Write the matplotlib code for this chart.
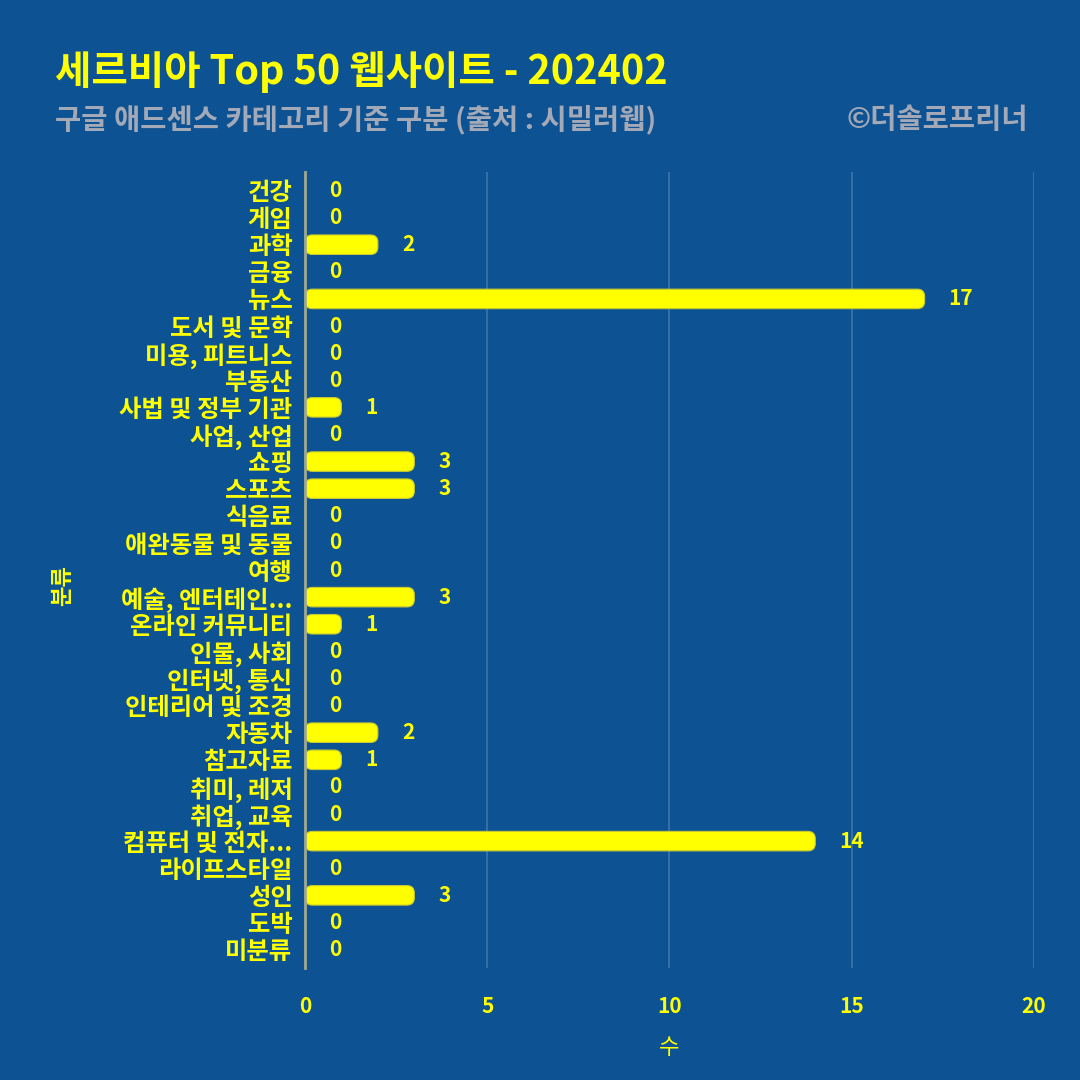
import matplotlib
matplotlib.use('Agg')
import matplotlib.pyplot as plt
from matplotlib.patches import FancyBboxPatch

# Data
categories = ['건강', '게임', '과학', '금융', '뉴스', '도서 및 문학', '미용, 피트니스', '부동산',
              '사법 및 정부 기관', '사업, 산업', '쇼핑', '스포츠', '식음료', '애완동물 및 동물',
              '여행', '예술, 엔터테인...', '온라인 커뮤니티', '인물, 사회', '인터넷, 통신',
              '인테리어 및 조경', '자동차', '참고자료', '취미, 레저', '취업, 교육',
              '컴퓨터 및 전자...', '라이프스타일', '성인', '도박', '미분류']
counts = [0, 0, 2, 0, 17, 0, 0, 0, 1, 0, 3, 3, 0, 0, 0, 3, 1, 0, 0, 0, 2, 1, 0, 0, 14, 0, 3, 0, 0]
xticks = [0, 5, 10, 15, 20]

bg = '#0d5293'
yellow = '#ffff00'
font = ['Noto Sans CJK KR', 'DejaVu Sans']
plt.rcParams['font.family'] = font
plt.rcParams['font.weight'] = 'bold'

fig = plt.figure(figsize=(10.8, 10.8), dpi=100, facecolor=bg)
ax = fig.add_axes([0.2824, 0.1037, 0.675, 0.737])
ax.set_facecolor(bg)

ax.set_xlim(0, 20)
ax.set_ylim(len(categories) - 0.32, -0.68)

ypos = list(range(len(categories)))
bars = ax.barh(ypos, counts, height=0.72, color=yellow, zorder=3)

# rounded bar ends
aspect = (1 / 27.1) / (1 / 36.45)
for b, c in zip(bars, counts):
    b.set_visible(False)
    if c <= 0:
        continue
    x0, y0 = b.get_x(), b.get_y()
    w, h = b.get_width(), b.get_height()
    p = FancyBboxPatch((x0, y0), w, h, boxstyle='round,pad=0,rounding_size=0.2',
                       mutation_aspect=aspect, facecolor=yellow, edgecolor='#c8c832',
                       linewidth=0.8, zorder=3)
    ax.add_patch(p)

for y, c in zip(ypos, counts):
    ax.annotate(str(c), (c, y), xytext=(24, 0), textcoords='offset pixels',
                ha='left', va='center', color=yellow, fontsize=15, fontweight='bold')

ax.set_xticks(xticks)
ax.set_yticks(ypos)
ax.set_yticklabels(categories)
ax.tick_params(axis='y', length=0, pad=9, labelsize=17.5, labelcolor=yellow)
ax.tick_params(axis='x', length=0, pad=20, labelsize=15, labelcolor=yellow)

ax.grid(axis='x', color='#3f74ab', linewidth=1.2, zorder=0)
for s in ['top', 'right', 'bottom']:
    ax.spines[s].set_visible(False)
ax.spines['left'].set_color('#a2a98e')
ax.spines['left'].set_linewidth(2)
ax.spines['left'].set_zorder(4)

ax.set_xlabel('수', color=yellow, fontsize=16, labelpad=14)
fig.text(0.058, 0.458, '분류', rotation=90, color=yellow, fontsize=16,
         ha='center', va='center', fontweight='bold')

fig.text(0.051, 0.933, '세르비아 Top 50 웹사이트 - 202402', color=yellow, fontsize=28.5,
         fontweight='bold', style='italic', ha='left', va='center')
fig.text(0.051, 0.889, '구글 애드센스 카테고리 기준 구분 (출처 : 시밀러웹)', color='#a3a9b6',
         fontsize=20.5, fontweight='bold', ha='left', va='center')
fig.text(0.952, 0.889, '©더솔로프리너', color='#a3a9b6', fontsize=20.5,
         fontweight='bold', ha='right', va='center')

fig.savefig('out.png', dpi=100, facecolor=bg)
